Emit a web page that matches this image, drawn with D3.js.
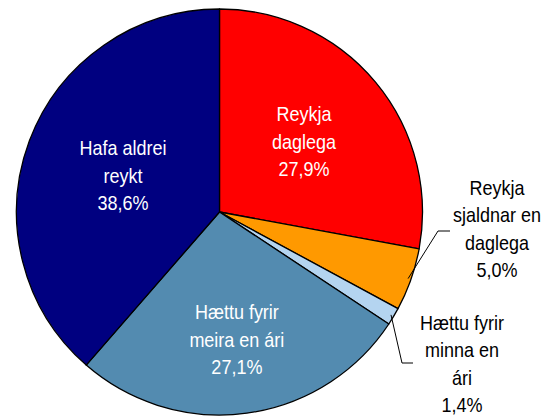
<!DOCTYPE html>
<html>
<head>
<meta charset="utf-8">
<script src="https://d3js.org/d3.v7.min.js"></script>
<style>
  body { margin: 0; background: #fff; }
  text { font-family: "Liberation Sans Narrow", "Arial Narrow", "Liberation Sans", sans-serif; font-size: 20px; }
</style>
</head>
<body>
<div id="chart"></div>
<script>
// slices, clockwise from 12 o'clock
var categories = ["Reykja daglega", "Reykja sjaldnar en daglega", "Hættu fyrir minna en ári", "Hættu fyrir meira en ári", "Hafa aldrei reykt"];
var values = [27.9, 5.0, 1.4, 27.1, 38.6];
var labelLines = [
    ["Reykja", "daglega"],
    ["Reykja", "sjaldnar en", "daglega"],
    ["Hættu fyrir", "minna en", "ári"],
    ["Hættu fyrir", "meira en ári"],
    ["Hafa aldrei", "reykt"]
];
var colors = ["#ff0000", "#ff9900", "#b4d4f0", "#538bb0", "#000080"];

var width = 553, height = 417;
var cx = 219.5, cy = 212, r = 203;

var svg = d3.select("#chart").append("svg")
    .attr("width", width)
    .attr("height", height);

var g = svg.append("g").attr("transform", "translate(" + cx + "," + cy + ")");

var pie = d3.pie().sort(null).value(function(d) { return d; });
var arcs = pie(values);
var arc = d3.arc().innerRadius(0).outerRadius(r);

g.selectAll("path.slice")
    .data(arcs)
    .enter()
    .append("path")
        .attr("class", "slice")
        .attr("d", arc)
        .attr("fill", function(d, i) { return colors[i]; })
        .attr("stroke", "#000")
        .attr("stroke-width", 1.3)
        .attr("stroke-linejoin", "round");

var fmt = function(v) { return v.toFixed(1).replace(".", ",") + "%"; };
var lineH = 27.5;
var squeeze = 0.9; // no narrow font installed, so squeeze horizontally

function addLabel(x, y, lines, fill, centered) {
    var t = g.append("text")
        .attr("transform", "translate(" + x + "," + y + ") scale(" + squeeze + ",1)")
        .attr("text-anchor", "middle")
        .attr("fill", fill);
    var off = centered ? (lines.length - 1) / 2 : 0;
    lines.forEach(function(s, j) {
        t.append("tspan")
            .attr("x", 0)
            .attr("y", (j - off) * lineH)
            .attr("dy", "0.35em")
            .text(s);
    });
}

// labels inside the big slices
var insideRadius = {0: 110, 3: 129, 4: 103};
Object.keys(insideRadius).forEach(function(k) {
    var i = +k;
    var pos = d3.arc().innerRadius(insideRadius[k]).outerRadius(insideRadius[k]).centroid(arcs[i]);
    addLabel(pos[0], pos[1], labelLines[i].concat([fmt(values[i])]), "#fff", true);
});

// outside labels with leader lines for the two small slices
var outside = [
    {i: 1, elbow: [218.5, 19], end: [230.5, 19], text: [277.5, -24]},
    {i: 2, elbow: [182.5, 151], end: [193.5, 151], text: [242.5, 111]}
];
outside.forEach(function(o) {
    var a = (arcs[o.i].startAngle + arcs[o.i].endAngle) / 2;
    var p0 = [Math.sin(a) * (r - 3), -Math.cos(a) * (r - 3)];
    g.append("polyline")
        .attr("points", [p0, o.elbow, o.end].map(function(p) { return p.join(","); }).join(" "))
        .attr("fill", "none")
        .attr("stroke", "#000")
        .attr("stroke-width", 1);
    addLabel(o.text[0], o.text[1], labelLines[o.i].concat([fmt(values[o.i])]), "#000", false);
});
</script>
</body>
</html>
